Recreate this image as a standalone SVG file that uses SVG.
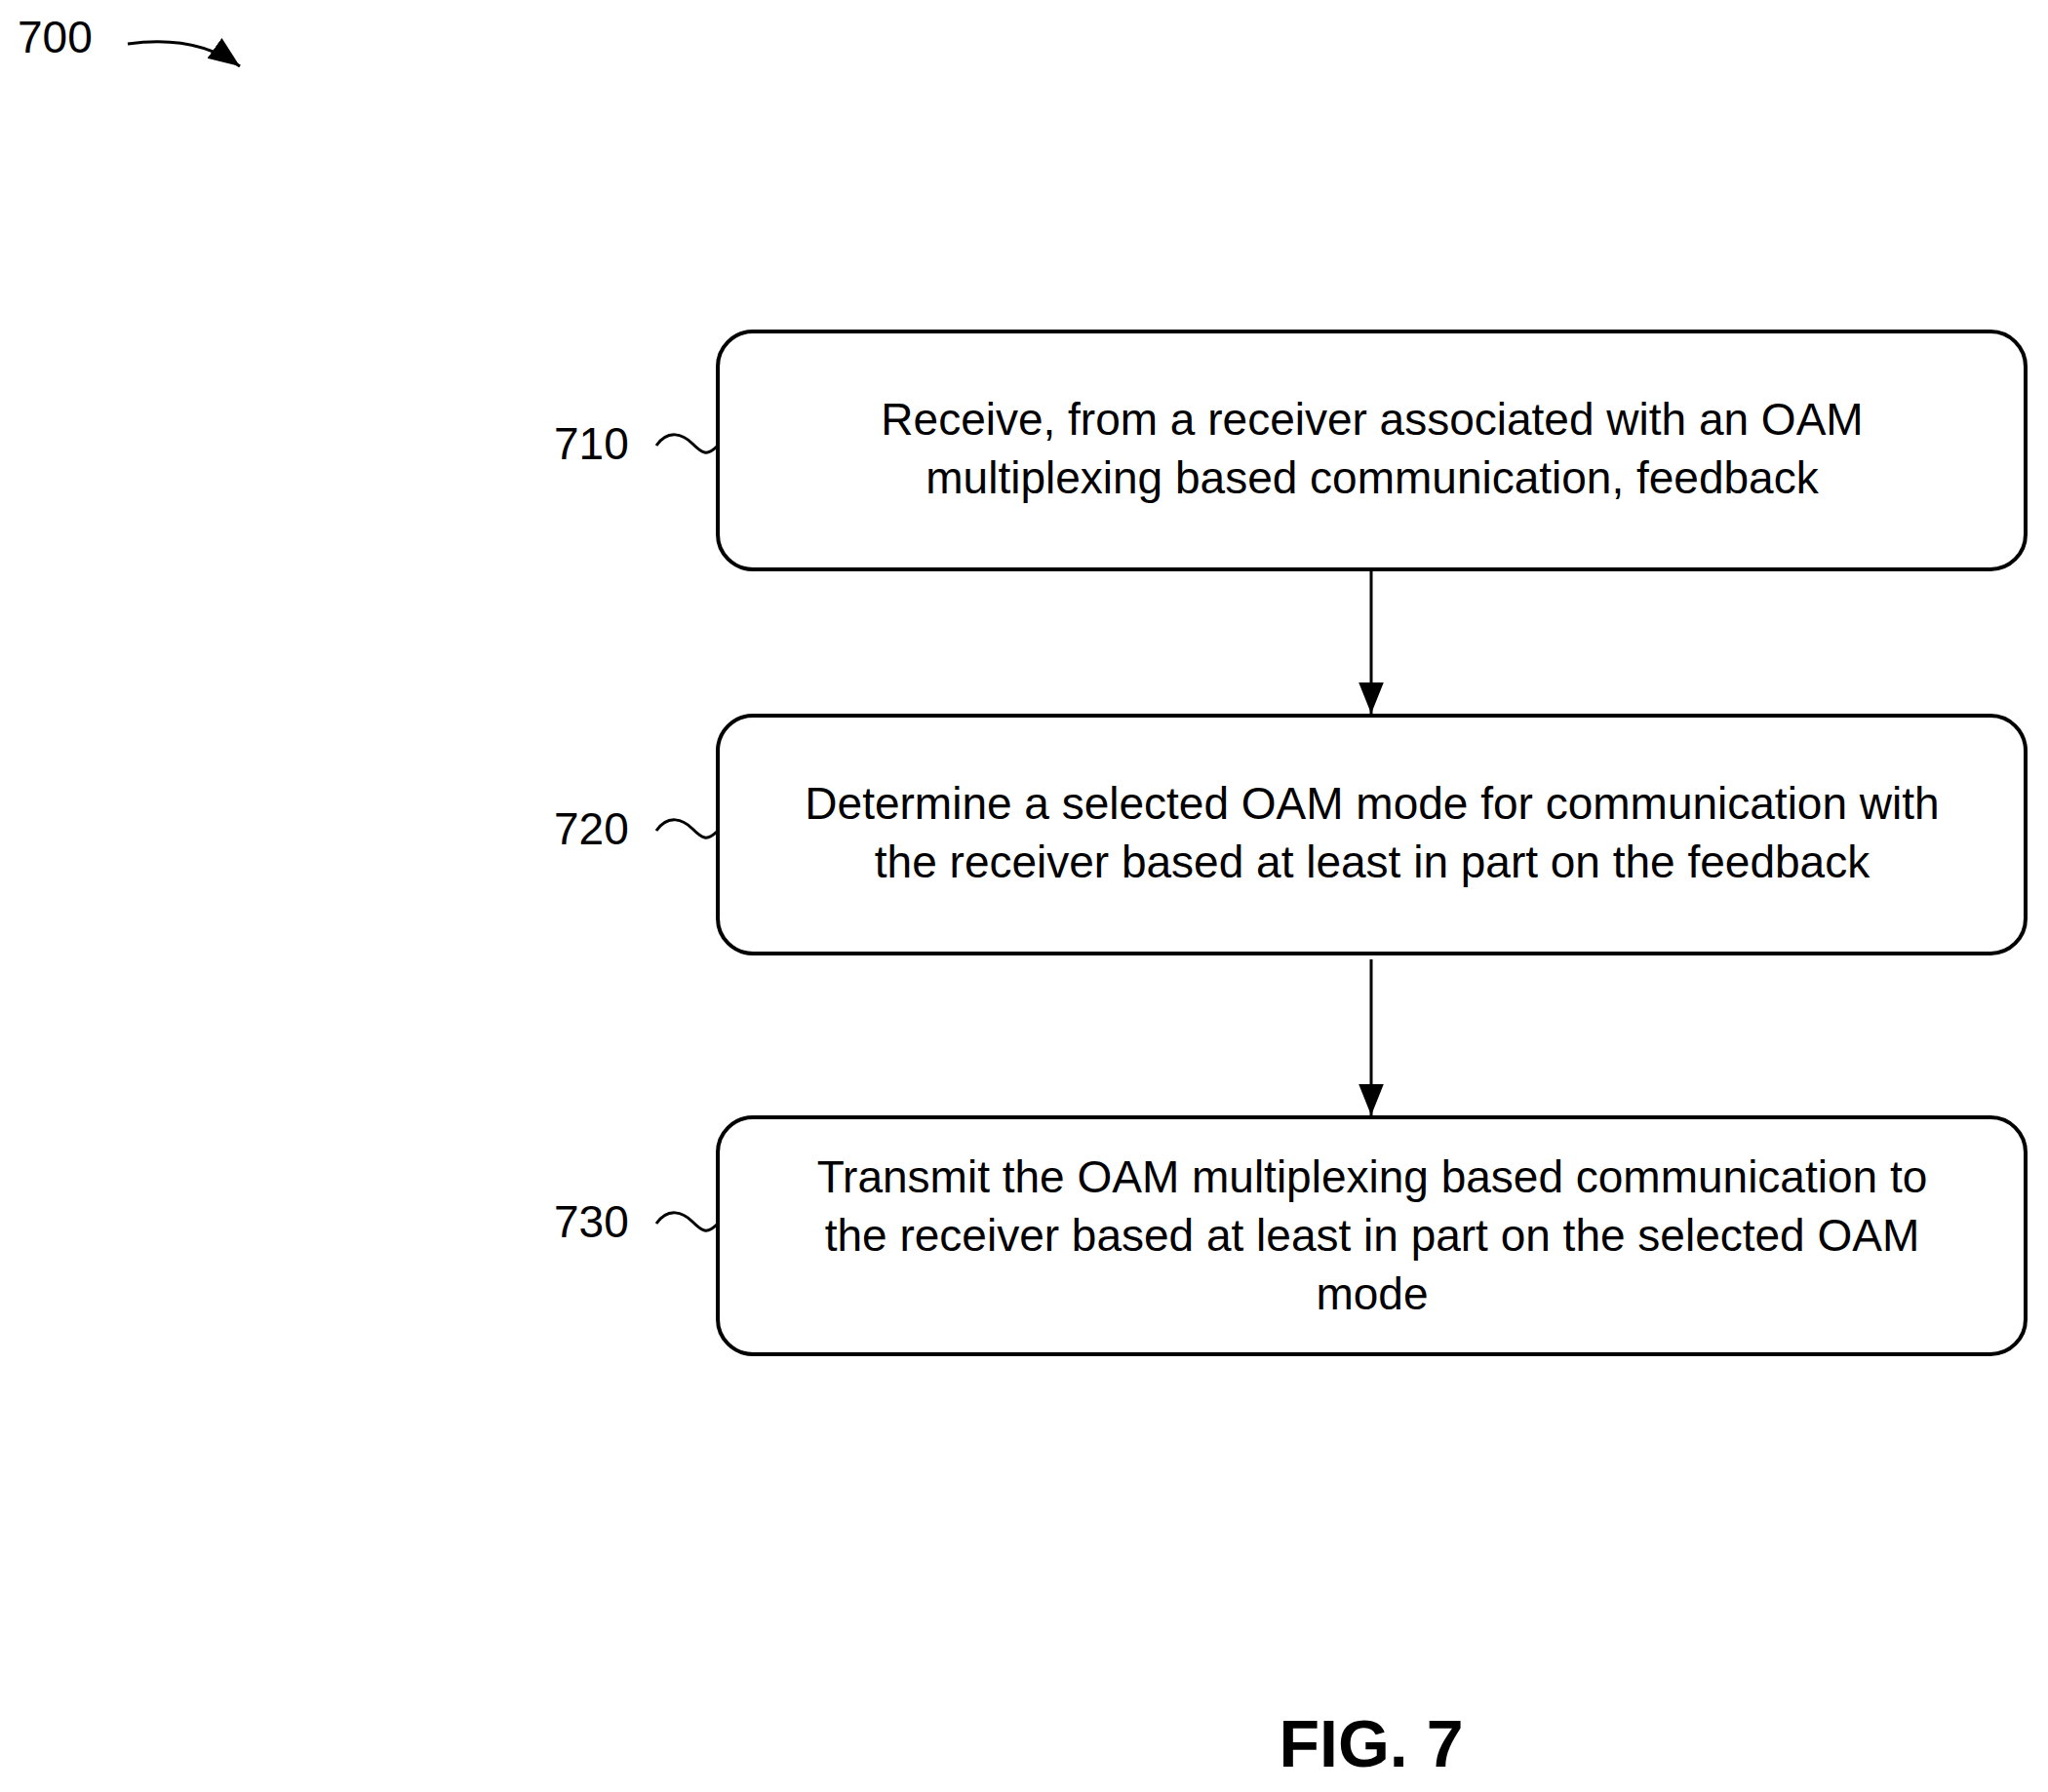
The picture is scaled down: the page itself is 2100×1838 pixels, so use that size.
<svg xmlns="http://www.w3.org/2000/svg" width="2100" height="1838" viewBox="0 0 2100 1838">
<style>
.box{fill:#fff;stroke:#000;stroke-width:4}
.t{font-family:"Liberation Sans",Arial,sans-serif;font-size:46px;text-anchor:middle}
.l{font-family:"Liberation Sans",Arial,sans-serif;font-size:46px}
.c{fill:none;stroke:#000;stroke-width:3}
</style>
<defs><marker id="a" markerWidth="10" markerHeight="10" refX="9" refY="5" orient="auto" markerUnits="userSpaceOnUse" viewBox="0 0 10 10"><path d="M0,0L10,5L0,10z"/></marker>
<marker id="b" viewBox="0 0 10 10" refX="10" refY="5" markerWidth="32" markerHeight="32" orient="auto" markerUnits="userSpaceOnUse"><path d="M0,1L10,5L0,9z"/></marker></defs>
<rect width="2100" height="1838" fill="#fff"/>
<text class="l" x="18" y="54">700</text>
<path class="c" d="M131,45 Q200,35 246,68" marker-end="url(#b)"/>
<g id="n710"><rect class="box" x="736" y="340" width="1341" height="244" rx="36"/>
<text class="t" x="1407" y="446">Receive, from a receiver associated with an OAM</text>
<text class="t" x="1407" y="506">multiplexing based communication, feedback</text>
<text class="l" x="568" y="471">710</text><path class="c" d="M673,457 C685,440 700,445 710,455 S725,468 735,458"/></g>
<g id="n720"><rect class="box" x="736" y="734" width="1341" height="244" rx="36"/>
<text class="t" x="1407" y="840">Determine a selected OAM mode for communication with</text>
<text class="t" x="1407" y="900">the receiver based at least in part on the feedback</text>
<text class="l" x="568" y="866">720</text><path class="c" d="M673,852 C685,835 700,840 710,850 S725,863 735,853"/></g>
<g id="n730"><rect class="box" x="736" y="1146" width="1341" height="243" rx="36"/>
<text class="t" x="1407" y="1223">Transmit the OAM multiplexing based communication to</text>
<text class="t" x="1407" y="1283">the receiver based at least in part on the selected OAM</text>
<text class="t" x="1407" y="1343">mode</text>
<text class="l" x="568" y="1269">730</text><path class="c" d="M673,1255 C685,1238 700,1243 710,1253 S725,1266 735,1256"/></g>
<g id="connectors">
<path class="c" d="M1406,586V732" marker-end="url(#b)"/>
<path class="c" d="M1406,984V1144" marker-end="url(#b)"/>
</g>
<text x="1406" y="1812" style="font-family:'Liberation Sans',Arial,sans-serif;font-size:68px;font-weight:bold;text-anchor:middle">FIG. 7</text>
</svg>
